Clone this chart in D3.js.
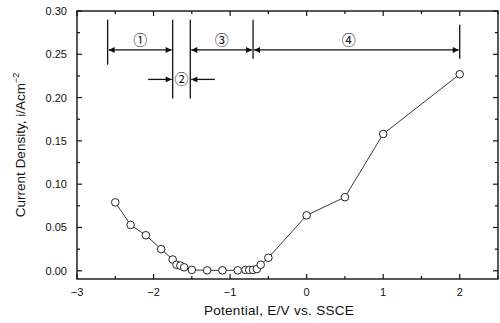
<!DOCTYPE html>
<html>
<head>
<meta charset="utf-8">
<script src="https://cdn.jsdelivr.net/npm/d3@7"></script>
<style>
  body { margin: 0; background: #fff; }
  text { font-family: "Liberation Sans", Arial, sans-serif; fill: #111; }
</style>
</head>
<body>
<div class="canvas"></div>
<script>
const potential = [-2.5, -2.3, -2.1, -1.9, -1.75, -1.7, -1.65, -1.6, -1.5, -1.3, -1.1, -0.9, -0.8, -0.75, -0.7, -0.65, -0.6, -0.5, 0, 0.5, 1, 2];
const current = [0.079, 0.053, 0.041, 0.025, 0.013, 0.007, 0.006, 0.004, 0.001, 0.0005, 0.0005, 0.0005, 0.001, 0.001, 0.001, 0.002, 0.007, 0.015, 0.064, 0.085, 0.158, 0.227];

const xTicks = [-3, -2, -1, 0, 1, 2];
const yTicks = [0, 0.05, 0.1, 0.15, 0.2, 0.25, 0.3];

// region markers: boundaries and labels
const regionLines = [-2.6, -1.75, -1.52, -0.7, 2.0];
const regionLabels = ["①", "②", "③", "④"];

const dims = { width: 500, height: 323 };
const margin = { left: 77, right: 2, top: 11, bottom: 44 };

const svg = d3
  .select(".canvas")
  .append("svg")
  .attr("width", dims.width)
  .attr("height", dims.height);

const x = d3.scaleLinear().domain([-3, 2.5]).range([margin.left, dims.width - margin.right]);
const y = d3.scaleLinear().domain([-0.0095, 0.3]).range([dims.height - margin.bottom, margin.top]);

const x0 = x.range()[0], x1 = x.range()[1];
const y0 = y.range()[0], y1 = y.range()[1];

// frame
svg.append("rect")
  .attr("x", x0).attr("y", y1)
  .attr("width", x1 - x0).attr("height", y0 - y1)
  .attr("fill", "none").attr("stroke", "#111").attr("stroke-width", 1.4);

// ticks (inward, on all four sides)
const xMinor = d3.range(-3, 2.51, 0.5);
const yMinor = d3.range(0, 0.301, 0.025);
const tickG = svg.append("g").attr("stroke", "#111").attr("stroke-width", 1.2);

xMinor.forEach((v) => {
  const len = Math.abs(v - Math.round(v)) < 1e-6 ? 5 : 3;
  tickG.append("line").attr("x1", x(v)).attr("x2", x(v)).attr("y1", y0).attr("y2", y0 - len);
  tickG.append("line").attr("x1", x(v)).attr("x2", x(v)).attr("y1", y1).attr("y2", y1 + len);
});
yMinor.forEach((v, i) => {
  const len = i % 2 === 0 ? 5 : 3;
  tickG.append("line").attr("x1", x0).attr("x2", x0 + len).attr("y1", y(v)).attr("y2", y(v));
  tickG.append("line").attr("x1", x1).attr("x2", x1 - len).attr("y1", y(v)).attr("y2", y(v));
});

// tick labels
svg.append("g").selectAll("text")
  .data(xTicks).enter().append("text")
  .attr("x", (d) => x(d)).attr("y", y0 + 17)
  .attr("text-anchor", "middle").attr("font-size", 11)
  .text((d) => (d < 0 ? "\u2212" + Math.abs(d) : d));

svg.append("g").selectAll("text")
  .data(yTicks).enter().append("text")
  .attr("x", x0 - 10).attr("y", (d) => y(d) + 4)
  .attr("text-anchor", "end").attr("font-size", 11)
  .text((d) => d.toFixed(2));

// axis titles
svg.append("text")
  .attr("x", 279).attr("y", 315)
  .attr("text-anchor", "middle").attr("font-size", 13.5)
  .attr("letter-spacing", 0.3)
  .text("Potential, E/V vs. SSCE");

const yTitle = svg.append("text")
  .attr("transform", `translate(25, ${(y0 + y1) / 2}) rotate(-90)`)
  .attr("text-anchor", "middle").attr("font-size", 13.5);
yTitle.append("tspan").text("Current Density, i/Acm");
yTitle.append("tspan").attr("dy", -6).attr("font-size", 9).text("−2");

// data line and markers
const line = d3.line().x((d) => x(d[0])).y((d) => y(d[1]));
const pts = potential.map((p, i) => [p, current[i]]);

svg.append("path")
  .attr("d", line(pts))
  .attr("fill", "none").attr("stroke", "#222").attr("stroke-width", 0.9);

svg.append("g").selectAll("circle")
  .data(pts).enter().append("circle")
  .attr("cx", (d) => x(d[0])).attr("cy", (d) => y(d[1]))
  .attr("r", 3.8)
  .attr("fill", "#fff").attr("stroke", "#222").attr("stroke-width", 1);

// region annotations
const ann = svg.append("g").attr("stroke", "#111").attr("stroke-width", 1.3);
const vTops = [0.29, 0.29, 0.29, 0.29, 0.284];
const vBots = [0.238, 0.199, 0.199, 0.245, 0.245];
regionLines.forEach((v, i) => {
  ann.append("line").attr("x1", x(v)).attr("x2", x(v))
    .attr("y1", y(vTops[i])).attr("y2", y(vBots[i]));
});

svg.append("defs").append("marker")
  .attr("id", "head").attr("viewBox", "0 0 10 10")
  .attr("refX", 10).attr("refY", 5)
  .attr("markerWidth", 8).attr("markerHeight", 6)
  .attr("markerUnits", "userSpaceOnUse")
  .attr("orient", "auto-start-reverse")
  .append("path").attr("d", "M0,0L10,5L0,10z").attr("fill", "#111");

const arrowY = 0.255;
const spans = [[regionLines[0], regionLines[1]], [regionLines[2], regionLines[3]], [regionLines[3], regionLines[4]]];
spans.forEach((s) => {
  ann.append("line")
    .attr("x1", x(s[0]) + 1).attr("x2", x(s[1]) - 1)
    .attr("y1", y(arrowY)).attr("y2", y(arrowY))
    .attr("marker-start", "url(#head)").attr("marker-end", "url(#head)");
});

// region 2: arrows pointing in from outside
const arrow2Y = 0.221;
ann.append("line")
  .attr("x1", x(-2.07)).attr("x2", x(regionLines[1]) - 1)
  .attr("y1", y(arrow2Y)).attr("y2", y(arrow2Y))
  .attr("marker-end", "url(#head)");
ann.append("line")
  .attr("x1", x(-1.2)).attr("x2", x(regionLines[2]) + 1)
  .attr("y1", y(arrow2Y)).attr("y2", y(arrow2Y))
  .attr("marker-end", "url(#head)");

const labelPos = [
  [(regionLines[0] + regionLines[1]) / 2, 0.266],
  [(regionLines[1] + regionLines[2]) / 2, arrow2Y],
  [(regionLines[2] + regionLines[3]) / 2, 0.266],
  [(regionLines[3] + regionLines[4]) / 2 - 0.1, 0.266],
];
svg.append("g").selectAll("text")
  .data(regionLabels).enter().append("text")
  .attr("x", (d, i) => x(labelPos[i][0]))
  .attr("y", (d, i) => y(labelPos[i][1]) + 5)
  .attr("text-anchor", "middle").attr("font-size", 14)
  .style("font-family", "'Noto Sans CJK KR', 'DejaVu Sans', sans-serif")
  .text((d) => d);
</script>
</body>
</html>
